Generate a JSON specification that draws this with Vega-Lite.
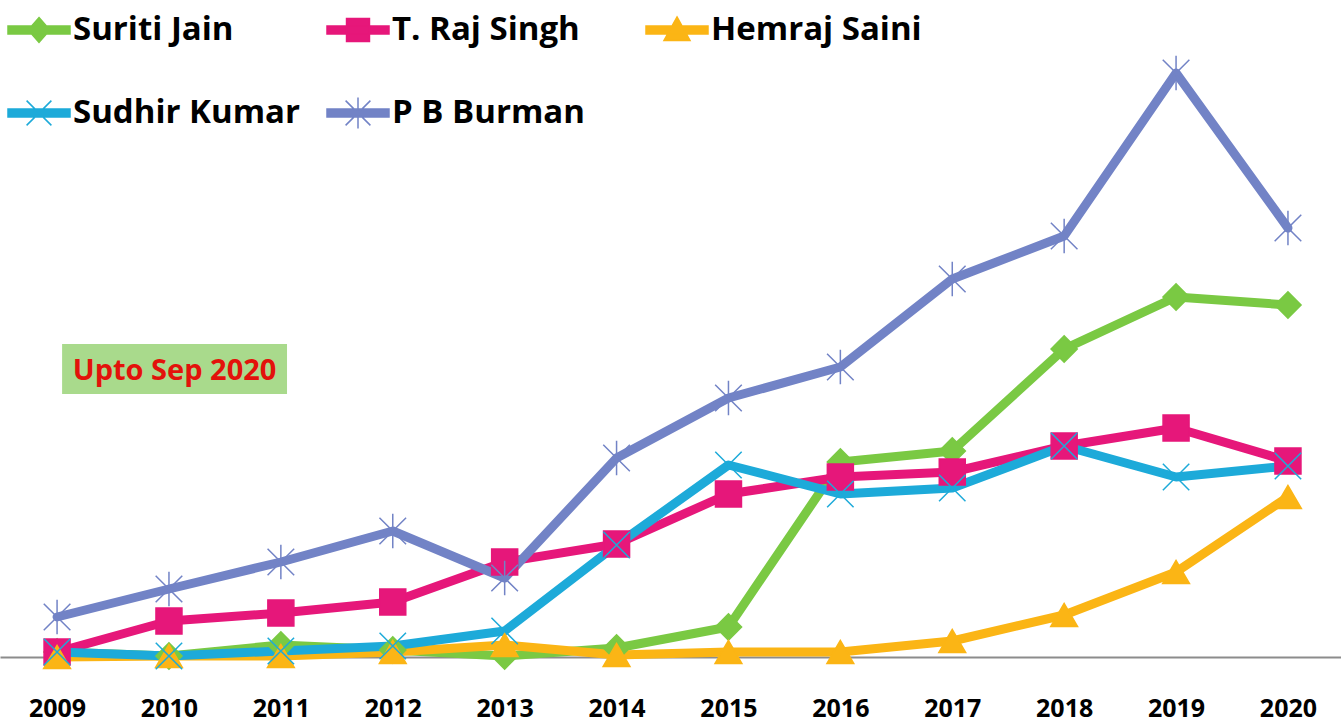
{
  "$schema": "https://vega.github.io/schema/vega-lite/v6.json",
  "width": 1341,
  "height": 657,
  "autosize": {"type": "none"},
  "padding": {"left": 0, "top": 0, "right": 0, "bottom": 70},
  "background": "white",
  "config": {"view": {"stroke": null}, "font": "Open Sans"},
  "datasets": {
    "series": [
      {"name": "Suriti Jain", "year": 2009, "value": 5},
      {"name": "Suriti Jain", "year": 2010, "value": 1},
      {"name": "Suriti Jain", "year": 2011, "value": 12},
      {"name": "Suriti Jain", "year": 2012, "value": 7},
      {"name": "Suriti Jain", "year": 2013, "value": 1},
      {"name": "Suriti Jain", "year": 2014, "value": 9},
      {"name": "Suriti Jain", "year": 2015, "value": 30},
      {"name": "Suriti Jain", "year": 2016, "value": 195},
      {"name": "Suriti Jain", "year": 2017, "value": 206},
      {"name": "Suriti Jain", "year": 2018, "value": 308},
      {"name": "Suriti Jain", "year": 2019, "value": 360},
      {"name": "Suriti Jain", "year": 2020, "value": 352},
      {"name": "T. Raj Singh", "year": 2009, "value": 5},
      {"name": "T. Raj Singh", "year": 2010, "value": 36},
      {"name": "T. Raj Singh", "year": 2011, "value": 44},
      {"name": "T. Raj Singh", "year": 2012, "value": 55},
      {"name": "T. Raj Singh", "year": 2013, "value": 95},
      {"name": "T. Raj Singh", "year": 2014, "value": 113},
      {"name": "T. Raj Singh", "year": 2015, "value": 163},
      {"name": "T. Raj Singh", "year": 2016, "value": 180},
      {"name": "T. Raj Singh", "year": 2017, "value": 185},
      {"name": "T. Raj Singh", "year": 2018, "value": 211},
      {"name": "T. Raj Singh", "year": 2019, "value": 229},
      {"name": "T. Raj Singh", "year": 2020, "value": 196},
      {"name": "Hemraj Saini", "year": 2009, "value": 0},
      {"name": "Hemraj Saini", "year": 2010, "value": 1},
      {"name": "Hemraj Saini", "year": 2011, "value": 1},
      {"name": "Hemraj Saini", "year": 2012, "value": 5},
      {"name": "Hemraj Saini", "year": 2013, "value": 12},
      {"name": "Hemraj Saini", "year": 2014, "value": 2},
      {"name": "Hemraj Saini", "year": 2015, "value": 5},
      {"name": "Hemraj Saini", "year": 2016, "value": 5},
      {"name": "Hemraj Saini", "year": 2017, "value": 16},
      {"name": "Hemraj Saini", "year": 2018, "value": 42},
      {"name": "Hemraj Saini", "year": 2019, "value": 85},
      {"name": "Hemraj Saini", "year": 2020, "value": 160},
      {"name": "Sudhir Kumar", "year": 2009, "value": 5},
      {"name": "Sudhir Kumar", "year": 2010, "value": 1},
      {"name": "Sudhir Kumar", "year": 2011, "value": 6},
      {"name": "Sudhir Kumar", "year": 2012, "value": 11},
      {"name": "Sudhir Kumar", "year": 2013, "value": 26},
      {"name": "Sudhir Kumar", "year": 2014, "value": 112},
      {"name": "Sudhir Kumar", "year": 2015, "value": 192},
      {"name": "Sudhir Kumar", "year": 2016, "value": 163},
      {"name": "Sudhir Kumar", "year": 2017, "value": 169},
      {"name": "Sudhir Kumar", "year": 2018, "value": 211},
      {"name": "Sudhir Kumar", "year": 2019, "value": 180},
      {"name": "Sudhir Kumar", "year": 2020, "value": 191},
      {"name": "P B Burman", "year": 2009, "value": 40},
      {"name": "P B Burman", "year": 2010, "value": 68},
      {"name": "P B Burman", "year": 2011, "value": 95},
      {"name": "P B Burman", "year": 2012, "value": 126},
      {"name": "P B Burman", "year": 2013, "value": 79},
      {"name": "P B Burman", "year": 2014, "value": 199},
      {"name": "P B Burman", "year": 2015, "value": 259},
      {"name": "P B Burman", "year": 2016, "value": 290},
      {"name": "P B Burman", "year": 2017, "value": 378},
      {"name": "P B Burman", "year": 2018, "value": 421},
      {"name": "P B Burman", "year": 2019, "value": 584},
      {"name": "P B Burman", "year": 2020, "value": 429}
    ],
    "box": [{"year": 2009.045, "year2": 2011.055, "value": 263, "value2": 313}],
    "label": [{"year": 2010.05, "value": 286, "label": "Upto Sep 2020"}]
  },
  "encoding": {
    "x": {
      "field": "year", "type": "quantitative",
      "scale": {"domain": [2008.49, 2020.474], "nice": false, "zero": false},
      "axis": {
        "values": [2009, 2010, 2011, 2012, 2013, 2014, 2015, 2016, 2017, 2018, 2019, 2020],
        "format": "d", "title": null, "grid": false, "ticks": false,
        "labelFont": "Open Sans", "labelFontWeight": "bold", "labelFontSize": 25,
        "labelColor": "#000000", "labelPadding": 39, "labelFlush": false, "labelOverlap": false,
        "domainColor": "#8c8c8c", "domainWidth": 2
      }
    },
    "y": {
      "field": "value", "type": "quantitative",
      "scale": {"domain": [0, 657], "nice": false},
      "axis": null
    }
  },
  "layer": [
    {
      "data": {"name": "box"},
      "mark": {"type": "rect", "color": "#A9DA8C"},
      "encoding": {"x2": {"field": "year2"}, "y2": {"field": "value2"}}
    },
    {
      "data": {"name": "label"},
      "mark": {"type": "text", "font": "Open Sans", "fontWeight": "bold", "fontSize": 29, "color": "#E3120B", "align": "center", "baseline": "middle"},
      "encoding": {"text": {"field": "label"}}
    },
    {
      "data": {"name": "series"},
      "mark": {"type": "line", "strokeWidth": 9, "strokeJoin": "round", "strokeCap": "round"},
      "encoding": {
        "color": {
          "field": "name", "type": "nominal",
          "scale": {
            "domain": ["Suriti Jain", "T. Raj Singh", "Hemraj Saini", "Sudhir Kumar", "P B Burman"],
            "range": ["#7AC943", "#E6177A", "#FBB515", "#1DAAD9", "#7283C6"]
          },
          "legend": {
            "orient": "none", "legendX": 7, "legendY": -3, "columns": 3, "direction": "horizontal", "gridAlign": "all",
            "columnPadding": 24, "rowPadding": 33, "padding": 0, "title": null,
            "symbolSize": 3844, "symbolStrokeWidth": 1.5,
            "labelFont": "Open Sans", "labelFontWeight": "bold", "labelFontSize": 33,
            "labelColor": "#000000", "labelLimit": 500, "labelOffset": 2,
            "encode": {
              "symbols": {
                "update": {
                  "shape": {"signal": "datum.value === 'Suriti Jain' ? 'M-1,-0.13H1V0.13H-1Z M0,-0.4L0.35,0L0,0.4L-0.35,0Z' : datum.value === 'T. Raj Singh' ? 'M-1,-0.13H1V0.13H-1Z M-0.37,-0.37H0.37V0.37H-0.37Z' : datum.value === 'Hemraj Saini' ? 'M-1,-0.13H1V0.13H-1Z M0,-0.42L0.42,0.34L-0.42,0.34Z' : datum.value === 'Sudhir Kumar' ? 'M-1,-0.13H1V0.13H-1Z M-0.4,-0.4L0.4,0.4M-0.4,0.4L0.4,-0.4' : 'M-1,-0.13H1V0.13H-1Z M-0.4,-0.4L0.4,0.4M-0.4,0.4L0.4,-0.4M0,-0.5L0,0.5'"},
                  "fill": {"signal": "scale('color', datum.value)"},
                  "stroke": {"signal": "scale('color', datum.value)"},
                  "size": {"value": 3844},
                  "strokeWidth": {"value": 1.5},
                  "opacity": {"value": 1}
                }
              }
            }
          }
        }
      }
    },
    {
      "data": {"name": "series"},
      "transform": [{"calculate": "datum.name", "as": "who"}],
      "mark": {"type": "point", "opacity": 1, "strokeWidth": 1.5},
      "encoding": {
        "fill": {
          "field": "who", "type": "nominal",
          "scale": {"range": ["#FBB515", "#7283C6", "#1DAAD9", "#7AC943", "#E6177A"]},
          "legend": null
        },
        "stroke": {
          "field": "who", "type": "nominal",
          "scale": {"range": ["#FBB515", "#7283C6", "#1DAAD9", "#7AC943", "#E6177A"]},
          "legend": null
        },
        "shape": {
          "field": "who", "type": "nominal",
          "scale": {"range": ["triangle-up", "M-1,-1L1,1M-1,1L1,-1M0,-1.3L0,1.3", "M-1,-1L1,1M-1,1L1,-1", "diamond", "square"]},
          "legend": null
        },
        "size": {
          "field": "who", "type": "nominal",
          "scale": {"range": [720, 676, 676, 560, 640]},
          "legend": null
        }
      }
    }
  ]
}
